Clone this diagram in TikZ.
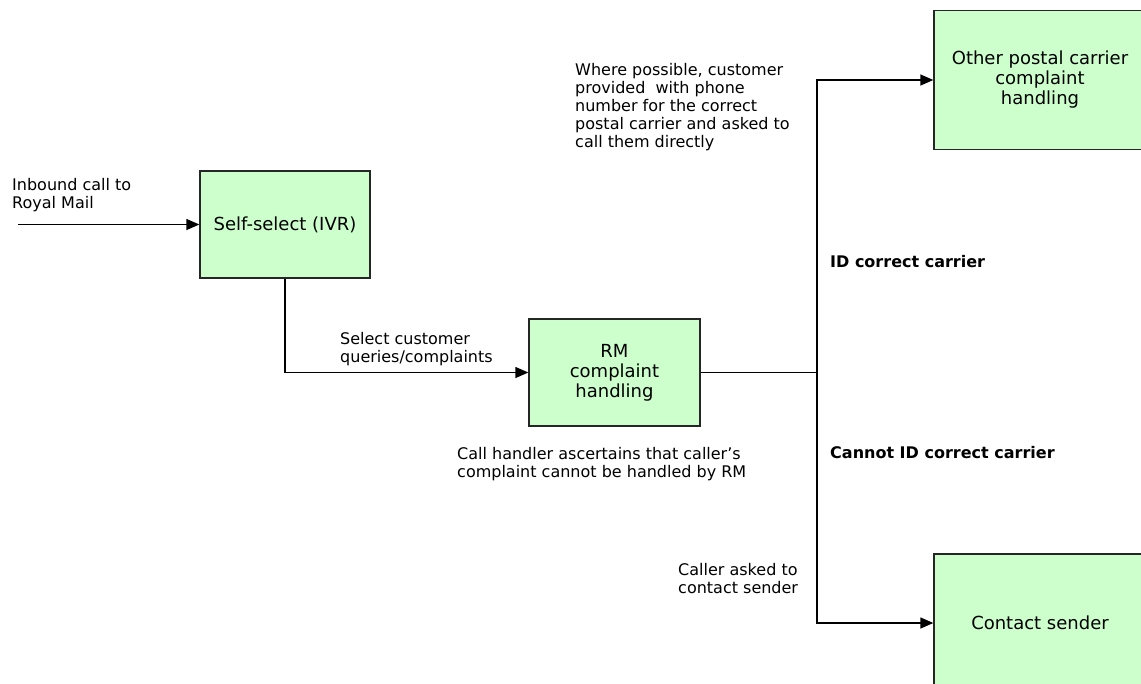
\documentclass[tikz,border=0pt]{standalone}
\usepackage{fontspec}
\setmainfont{DejaVu Sans}
\usepackage{xcolor}
\usetikzlibrary{arrows.meta,positioning}

\definecolor{boxgreen}{HTML}{CCFFCC}
\tikzset{
  stepbox/.style={draw=black!85,fill=boxgreen,line width=1.3pt,align=center,
    inner sep=0pt,font=\fontsize{18}{20}\selectfont},
  note/.style={align=left,anchor=west,inner sep=0pt,font=\fontsize{16}{18}\selectfont},
  flow/.style={line width=1.3pt,-{Triangle[length=13pt,width=11pt]}},
}

\begin{document}
\begin{tikzpicture}[x=1pt,y=-1pt]
  \clip (0,0) rectangle (1141,683);

  % boxes
  \node[stepbox,minimum width=170pt,minimum height=107pt] (ivr) at (285,224.5) {Self-select (IVR)};
  \node[stepbox,minimum width=171pt,minimum height=107pt] (rm) at (614.5,372.5) {RM\\complaint\\handling};
  \node[stepbox,minimum width=212pt,minimum height=139pt] (other) at (1040,80) {Other postal carrier\\complaint\\handling};
  \node[stepbox,minimum width=212pt,minimum height=138pt] (sender) at (1040,623) {Contact sender};

  % labels
  \node[note] (inbound) at (12,195) {Inbound call to\\Royal Mail};
  \node[note] (select) at (340,349) {Select customer\\queries/complaints};
  \node[note] (where) at (575,107) {Where possible, customer\\provided\ \ with phone\\number for the correct\\postal carrier and asked to\\call them directly};
  \node[note,font=\fontsize{16}{18}\selectfont\bfseries] (idc) at (830,262) {ID correct carrier};
  \node[note,font=\fontsize{16}{18}\selectfont\bfseries] (noid) at (830,453) {Cannot ID correct carrier};
  \node[note] (handler) at (457,464) {Call handler ascertains that caller's\\complaint cannot be handled by RM};
  \node[note] (caller) at (678,579) {Caller asked to\\contact sender};

  % connectors
  \coordinate (start) at (18,224.5);
  \coordinate (split) at (817,372.5);
  \draw[flow] (start) -- (ivr.west);
  \draw[flow] (ivr.south) |- (rm.west);
  \draw[line width=1.3pt] (rm.east) -- (split);
  \draw[flow] (split) |- (other.west);
  \draw[flow] (split) |- (sender.west);
\end{tikzpicture}
\end{document}
